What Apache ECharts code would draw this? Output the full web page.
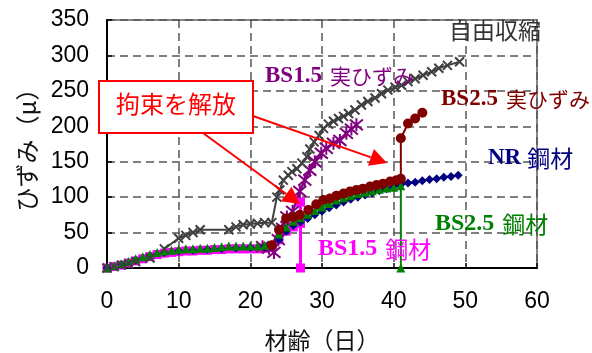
<!DOCTYPE html>
<html>
<head>
<meta charset="utf-8">
<script src="https://cdn.jsdelivr.net/npm/echarts@6/dist/echarts.min.js"></script>
<style>
html,body{margin:0;padding:0;background:#fff;}
#c{width:592px;height:353px;}
</style>
</head>
<body>
<div id="c"></div>
<script>
// ---- data (day, strain μ) ----
var freeShrink = [[0,0],[1,2],[2,4],[3,6],[4,9],[6,14],[8,27],[10,42],[11,46],[12,50],[13,54],[17,54],[18,58],[19,61],[20,62],[21,63],[22,64],[23,64],[23.7,100],[24.1,110],[24.6,124],[25.3,131],[25.8,136],[26.5,140],[27.2,148],[27.9,157],[28.3,168],[28.9,178],[29.6,187],[30.2,197],[30.9,203],[31.6,207],[32.3,211],[33,214],[33.7,218],[34.6,223],[35.5,230],[36.4,235],[37.4,240],[38.3,246],[39.2,251],[40.2,255],[41.1,258],[42,263],[43,267],[44.1,272],[45.3,277],[46.3,282],[47.5,286],[49.2,291]];
var bs15Real = [[21.7,30],[22.6,28],[23.3,22],[23.9,40],[24.5,56],[25.1,72],[25.9,80],[26.9,108],[27.6,124],[28.3,138],[29,150],[29.9,162],[30.6,169],[31.6,176],[32.5,180],[33.4,190],[34.1,196],[34.8,202]];
var bs25Real = [[23,32],[24,54],[25,70],[26,72],[26.9,75],[28.1,82],[29.2,90],[30.2,96],[31.1,98],[32,102],[33,105],[33.9,108],[34.8,110],[35.7,112],[36.7,115],[37.6,117],[38.5,119],[39.5,122],[40.4,124],[41,126],[41,183],[42,204],[43,211],[44,219]];
var nrSteel = [[0,0],[2,5],[4,11],[6,17],[8,22],[10,24],[12,25],[14,26],[16,27],[18,28],[20,29],[22,30],[23,31],[24,40],[25,52],[26,60],[27,65],[28,70],[29,75],[30,80],[31,85],[32,89],[33,93],[34,97],[35,100],[36,103],[37,106],[38,109],[39,112],[40,115],[41,118],[42,120],[43,121],[44,123],[45,125],[46,126],[47,128],[48,129],[49,131]];
var bs25Steel = [[0,0],[1,3],[2,6],[3,9],[4,13],[5,16],[6,19],[7,22],[8,24],[9,25],[10,26],[11,27],[12,27],[13,28],[14,28],[15,29],[16,30],[17,31],[18,31],[19,31],[20,31],[21,31],[22,32],[23,33],[24,48],[25,58],[26,66],[27,71],[28,76],[29,81],[30,86],[31,91],[32,96],[33,99],[34,102],[35,105],[36,107],[37,109],[38,111],[39,113],[40,114],[41,116],[41,0]];
var bs15Steel = [[0,0],[1,2],[2,4],[3,7],[4,10],[5,13],[6,16],[7,19],[8,21],[9,22],[10,23],[11,24],[12,24],[13,25],[14,25],[15,26],[16,26],[17,27],[18,27],[19,27],[20,27],[21,27],[22,28],[23,29],[24,40],[25,52],[26,58],[27,63],[27,93],[27,0]];
var xTicks = [0,10,20,30,40,50,60];
var yTicks = [0,50,100,150,200,250,300,350];
var seriesNames = ['自由収縮','BS1.5 実ひずみ','BS2.5 実ひずみ','NR 鋼材','BS2.5 鋼材','BS1.5 鋼材'];

var chart = echarts.init(document.getElementById('c'), null, {renderer:'canvas'});
var JP = "'Noto Sans CJK JP','Noto Sans',sans-serif";
var SERIF = "'Liberation Serif','DejaVu Serif',serif";
var XPATH = 'path://M0,0L10,10M10,0L0,10';
var STAR = 'path://M0,0L10,10M10,0L0,10M5,-1L5,11';

function mkSeries(name, data, color, symbol, size, lw, extra) {
  var s = {
    name: name, type: 'line', data: data, symbol: symbol, symbolSize: size,
    showAllSymbol: true, animation: false,
    lineStyle: {color: color, width: lw},
    itemStyle: {color: color},
    emphasis: {disabled: true}
  };
  if (extra) for (var k in extra) s[k] = extra[k];
  return s;
}

var option = {
  backgroundColor: '#fff',
  animation: false,
  grid: {show:true, borderColor:'#888', borderWidth:2, backgroundColor:'transparent',
    left:107, right:55, top:20, bottom:85, containLabel:false, outerBoundsMode:'none'},
  xAxis: {
    type:'value', min:0, max:60, interval:10,
    name:'材齢（日）', nameLocation:'middle', nameGap:61,
    nameTextStyle:{fontFamily:JP, fontSize:23, color:'#111'},
    axisLine:{show:true, lineStyle:{color:'#000', width:2}},
    axisTick:{show:true, inside:true, length:5, lineStyle:{color:'#000', width:1.5}},
    axisLabel:{fontFamily:"'Liberation Sans',Arial,sans-serif", fontSize:23, color:'#000', margin:22,
      formatter:function(v){return xTicks.indexOf(v)>=0?String(v):'';}},
    splitLine:{show:true, lineStyle:{color:'#555', type:[8,5], width:1.5}}
  },
  yAxis: {
    type:'value', min:0, max:350, interval:50,
    name:'ひずみ（μ）', nameLocation:'middle', nameGap:68, nameRotate:90,
    nameTextStyle:{fontFamily:JP, fontSize:24, color:'#111'},
    axisLine:{show:true, lineStyle:{color:'#000', width:2}},
    axisTick:{show:true, inside:true, length:5, lineStyle:{color:'#000', width:1.5}},
    axisLabel:{fontFamily:"'Liberation Sans',Arial,sans-serif", fontSize:23, color:'#000', margin:18,
      padding:[4,0,0,0],
      formatter:function(v){return yTicks.indexOf(v)>=0?String(v):'';}},
    splitLine:{show:true, lineStyle:{color:'#555', type:[8,5], width:1.5}}
  },
  series: [
    mkSeries(seriesNames[5], bs15Steel, '#FF00FF', 'rect', 9, 3),
    mkSeries(seriesNames[1], bs15Real, '#800080', STAR, 13, 2.5,
      {itemStyle:{color:'#800080', borderColor:'#800080', borderWidth:2}}),
    mkSeries(seriesNames[3], nrSteel, '#000080', 'diamond', 9, 2),
    mkSeries(seriesNames[4], bs25Steel, '#008000', 'triangle', 9, 2),
    mkSeries(seriesNames[2], bs25Real, '#800000', 'circle', 10, 2),
    mkSeries(seriesNames[0], freeShrink, '#404040', XPATH, 9, 2,
      {itemStyle:{color:'#404040', borderColor:'#404040', borderWidth:2}})
  ]
};
chart.setOption(option);

// annotations
function arrow(x1,y1,x2,y2){
  var L=17, W=9;
  var dx=x2-x1, dy=y2-y1, d=Math.sqrt(dx*dx+dy*dy), ux=dx/d, uy=dy/d;
  var bx=x2-ux*L, by=y2-uy*L;
  return [
    {type:'line', z:50, shape:{x1:x1,y1:y1,x2:bx,y2:by}, style:{stroke:'#FF0000', lineWidth:2}},
    {type:'polygon', z:50, shape:{points:[[x2,y2],[bx-uy*W,by+ux*W],[bx+uy*W,by-ux*W]]}, style:{fill:'#FF0000'}}
  ];
}
function rtext(x,y,bs,jp,color,bsSize,jpSize,gap){
  return {type:'text', z:60, left:x, top:y, style:{
    text:'{a|'+bs+'}{b|'+jp+'}',
    rich:{
      a:{fontFamily:SERIF, fontWeight:'bold', fontSize:bsSize, fill:color, color:color},
      b:{fontFamily:JP, fontSize:jpSize, fill:color, color:color, padding:[0,0,0,gap]}
    }}};
}
var g = [];
g = g.concat(arrow(203,133,300,204));
g = g.concat(arrow(253,116,387,163));
g.push({type:'rect', z:55, shape:{x:99,y:81,width:154,height:52}, style:{fill:'#fff', stroke:'#FF0000', lineWidth:2}});
g.push({type:'text', z:60, left:116, top:92, style:{text:'拘束を解放', fontFamily:JP, fontSize:24, fill:'#FF0000'}});
g.push({type:'text', z:60, left:449, top:19, style:{text:'自由収縮', fontFamily:JP, fontSize:23, fill:'#333'}});
g.push(rtext(265,65,'BS1.5','実ひずみ','#800080',23,21,8));
g.push(rtext(441,88,'BS2.5','実ひずみ','#800000',23,21,8));
g.push(rtext(488,147,'NR','鋼材','#000080',23,23,6));
g.push(rtext(435,212,'BS2.5','鋼材','#008000',24,23,8));
g.push(rtext(318,237,'BS1.5','鋼材','#FF00FF',24,23,8));
chart.setOption({graphic:{elements:g}});
</script>
</body>
</html>
